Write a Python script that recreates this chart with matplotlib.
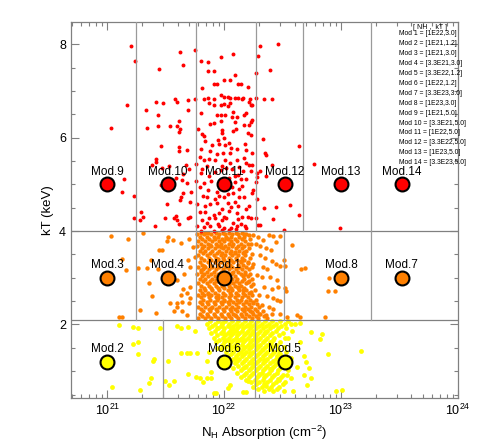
import numpy as np
import matplotlib.pyplot as plt
from matplotlib.ticker import LogLocator, MultipleLocator, NullFormatter

plt.rcParams['font.family'] = ['Liberation Sans', 'DejaVu Sans']
plt.rcParams['mathtext.fontset'] = 'custom'
plt.rcParams['mathtext.rm'] = 'Liberation Sans'
plt.rcParams['mathtext.it'] = 'Liberation Sans:italic'

# model grid: name, NH (cm^-2), kT (keV)
mod_names = ['Mod.1', 'Mod.2', 'Mod.3', 'Mod.4', 'Mod.5', 'Mod.6', 'Mod.7',
             'Mod.8', 'Mod.9', 'Mod.10', 'Mod.11', 'Mod.12', 'Mod.13', 'Mod.14']
mod_nh = [1e22, 1e21, 1e21, 3.3e21, 3.3e22, 1e22, 3.3e23,
          1e23, 1e21, 3.3e21, 1e22, 3.3e22, 1e23, 3.3e23]
mod_kt = [3.0, 1.2, 3.0, 3.0, 1.2, 1.2, 3.0, 3.0, 5.0, 5.0, 5.0, 5.0, 5.0, 5.0]
mod_text = ['[1E22,3.0]', '[1E21,1.2]', '[1E21,3.0]', '[3.3E21,3.0]', '[3.3E22,1.2]',
            '[1E22,1.2]', '[3.3E23,3.0]', '[1E23,3.0]', '[1E21,5.0]', '[3.3E21,5.0]',
            '[1E22,5.0]', '[3.3E22,5.0]', '[1E23,5.0]', '[3.3E23,5.0]']

# region boundaries (log10 NH) per kT band
kt_cuts = [2.1, 4.0]
top_cuts = [21.25, 21.76, 22.27, 22.675, 23.26]
mid_cuts = [21.25, 21.76, 22.51, 23.26]
low_cuts = [21.48, 22.26]

# simulated spectra, (log10 NH, kT)
red_pts = [
    (21.20, 7.96), (21.24, 7.64), (21.44, 7.48), (21.62, 7.84), (21.65, 7.55), (21.75, 7.88),
    (21.80, 7.64), (21.86, 7.62), (21.97, 7.72), (22.08, 7.80), (21.86, 7.43), (21.91, 7.43),
    (22.09, 7.34), (22.05, 7.23), (22.00, 7.23), (21.94, 7.16), (21.91, 7.15), (22.12, 7.16),
    (21.81, 7.06), (21.97, 6.91), (22.00, 6.87), (22.03, 6.87), (22.05, 6.85), (22.09, 6.86),
    (22.12, 6.84), (21.83, 6.82), (21.86, 6.84), (21.91, 6.83), (21.75, 6.83), (21.69, 6.80),
    (21.58, 6.83), (21.60, 6.77), (21.42, 6.77), (21.48, 6.74), (21.17, 6.69), (21.87, 6.74),
    (21.91, 6.70), (21.97, 6.70), (22.00, 6.72), (22.03, 6.67), (22.05, 6.74), (22.08, 6.55),
    (21.69, 6.60), (21.33, 6.60), (21.80, 6.53), (21.43, 6.48), (21.94, 6.48), (21.97, 6.49),
    (22.01, 6.49), (22.07, 6.45), (22.11, 6.45), (21.97, 6.36), (22.09, 6.34), (21.91, 6.32),
    (21.88, 6.30), (21.61, 6.36), (21.54, 6.26), (21.60, 6.25), (21.62, 6.19), (21.61, 6.12),
    (21.43, 6.25), (21.34, 6.21), (21.03, 6.21), (21.78, 6.18), (21.98, 6.17), (21.98, 6.11),
    (22.08, 6.14), (22.10, 6.19), (21.81, 6.07), (21.83, 6.04), (22.00, 6.00),
    (22.31, 7.96), (22.46, 8.00), (22.29, 7.75), (22.27, 7.38), (22.39, 7.45), (22.20, 7.09),
    (22.16, 6.84), (22.15, 6.82), (22.22, 6.83), (22.27, 6.85), (22.34, 6.83), (22.41, 6.83),
    (22.21, 6.76), (22.23, 6.69), (22.24, 6.69), (22.19, 6.53), (22.17, 6.48), (22.24, 6.38),
    (22.23, 6.34), (22.21, 6.27), (22.17, 6.28), (22.20, 6.11), (22.23, 6.05), (22.33, 5.97),
    (22.14, 7.16),
    (21.46, 5.82), (21.61, 5.80), (21.68, 5.73), (21.61, 5.71), (21.42, 5.55), (21.42, 5.47),
    (21.38, 5.41), (21.47, 5.36), (21.53, 5.40), (21.67, 5.42), (21.70, 5.33), (21.65, 5.23),
    (21.59, 5.14), (21.64, 5.10), (21.68, 5.03), (21.14, 5.11), (21.13, 4.84), (21.23, 4.76),
    (21.46, 4.98), (21.65, 4.81), (21.72, 4.84), (21.62, 4.66), (21.63, 4.72), (21.71, 4.63),
    (21.51, 4.59), (21.29, 4.41), (21.31, 4.31), (21.23, 4.27), (21.28, 4.24), (21.41, 4.11),
    (21.49, 4.28), (21.57, 4.28), (21.59, 4.32), (21.60, 4.23), (21.61, 4.16), (21.69, 4.28),
    (21.71, 4.31),
    (21.84, 5.92), (21.90, 5.85), (21.96, 5.86), (22.01, 5.85), (22.04, 5.89), (21.80, 5.76),
    (21.88, 5.72), (21.94, 5.65), (21.99, 5.67), (22.05, 5.67), (22.11, 5.76), (21.79, 5.59),
    (21.83, 5.53), (21.87, 5.55), (21.92, 5.52), (22.01, 5.53), (22.05, 5.46), (22.11, 5.53),
    (21.76, 5.43), (21.81, 5.34), (21.85, 5.39), (21.98, 5.40), (22.02, 5.35), (22.07, 5.33),
    (22.13, 5.38), (21.80, 5.25), (21.87, 5.19), (21.92, 5.27), (22.09, 5.18), (22.12, 5.20),
    (21.76, 5.07), (21.83, 5.04), (21.89, 5.08), (22.09, 5.06), (22.07, 4.95), (22.13, 4.91),
    (21.82, 4.75), (21.85, 4.72), (21.92, 4.68), (21.96, 4.75), (22.00, 4.72), (22.03, 4.79),
    (22.08, 4.82), (22.13, 4.74), (21.77, 4.57), (21.84, 4.54), (21.88, 4.58), (21.94, 4.61),
    (22.03, 4.60), (22.09, 4.62), (22.12, 4.54), (21.79, 4.40), (21.84, 4.41), (21.91, 4.34),
    (21.96, 4.38), (22.00, 4.31), (22.04, 4.43), (22.11, 4.38), (21.81, 4.23), (21.85, 4.18),
    (21.92, 4.28), (21.98, 4.23), (22.02, 4.27), (22.08, 4.18), (22.12, 4.26), (21.77, 4.10),
    (21.83, 4.08), (21.88, 4.10), (21.96, 4.11), (22.00, 4.07), (22.06, 4.06), (22.11, 4.10),
    (21.80, 4.01), (21.91, 4.01), (21.98, 4.02), (22.04, 4.02),
    (21.95, 5.95), (22.06, 5.78), (21.97, 5.31), (22.04, 5.14), (21.86, 4.88), (21.94, 4.84),
    (21.79, 4.95), (21.98, 4.47), (22.06, 4.52), (21.87, 4.29), (22.10, 4.04), (21.95, 4.15),
    (22.18, 5.87), (22.24, 5.67), (22.19, 5.73), (22.17, 5.57), (22.19, 5.45), (22.21, 5.42),
    (22.24, 5.41), (22.16, 5.29), (22.23, 5.29), (22.28, 5.25), (22.31, 5.28), (22.35, 5.67),
    (22.36, 5.64), (22.41, 5.42), (22.36, 5.19), (22.14, 5.11), (22.19, 5.12), (22.15, 4.96),
    (22.27, 5.05), (22.28, 5.16), (22.25, 4.89), (22.24, 4.82), (22.17, 4.74), (22.19, 4.47),
    (22.15, 4.31), (22.20, 4.31), (22.23, 4.27), (22.27, 4.28), (22.14, 4.15), (22.18, 4.11),
    (22.19, 4.06), (22.29, 4.13), (22.31, 4.13), (22.34, 4.50), (22.44, 4.52), (22.56, 4.56),
    (22.42, 4.25), (22.64, 4.34), (22.64, 5.83), (22.77, 5.44), (22.99, 4.07), (22.51, 4.02),
    (22.21, 4.54), (22.28, 4.68),
]

orange_pts = [
    (21.03, 3.89), (21.18, 3.83), (21.13, 3.40), (21.16, 3.16), (21.31, 3.96), (21.52, 3.87),
    (21.56, 3.82), (21.51, 3.79), (21.63, 3.75), (21.70, 3.83), (21.44, 3.59), (21.47, 3.59),
    (21.37, 3.38), (21.26, 3.20), (21.34, 3.21), (21.43, 3.18), (21.36, 2.88), (21.38, 2.60),
    (21.54, 2.45), (21.60, 2.47), (21.64, 2.48), (21.70, 2.45), (21.60, 2.38), (21.28, 2.30),
    (21.42, 2.24), (21.10, 2.17), (21.13, 2.15), (21.57, 2.29), (21.64, 2.28), (21.68, 2.21),
    (21.65, 2.75), (21.71, 2.81), (21.68, 2.67), (21.71, 2.57), (21.63, 2.63), (21.60, 2.95),
    (21.66, 3.09), (21.71, 3.23), (21.69, 3.39), (21.73, 3.66), (21.75, 3.45),
    (22.48, 3.90), (22.58, 3.70), (22.51, 3.38), (22.66, 3.19), (22.69, 3.22), (22.52, 3.26),
    (22.90, 2.99), (22.89, 2.72), (22.95, 2.72), (22.52, 2.79), (22.53, 2.72), (22.45, 2.52),
    (22.54, 2.16), (22.62, 2.21), (22.65, 2.16), (22.86, 2.16),
    (22.17, 3.93), (22.21, 3.91), (22.25, 3.91), (22.29, 3.87), (22.33, 3.80), (22.38, 3.91),
    (22.42, 3.89), (22.44, 3.77), (22.20, 3.73), (22.27, 3.72), (22.31, 3.69), (22.36, 3.63),
    (22.40, 3.59), (22.17, 3.55), (22.24, 3.52), (22.31, 3.49), (22.35, 3.43), (22.41, 3.35),
    (22.44, 3.30), (22.48, 3.26), (22.20, 3.32), (22.25, 3.29), (22.33, 3.23), (22.37, 3.18),
    (22.18, 3.09), (22.28, 3.06), (22.32, 3.02), (22.39, 3.02), (22.45, 2.95), (22.20, 2.92),
    (22.25, 2.86), (22.34, 2.81), (22.41, 2.77), (22.46, 2.81), (22.16, 2.74), (22.23, 2.69),
    (22.30, 2.64), (22.37, 2.61), (22.42, 2.57), (22.48, 2.51), (22.19, 2.51), (22.25, 2.45),
    (22.32, 2.41), (22.38, 2.38), (22.42, 2.34), (22.17, 2.31), (22.24, 2.27), (22.31, 2.23),
    (22.36, 2.20), (22.41, 2.23), (22.48, 2.23),
    (21.84, 3.95), (22.02, 3.86), (21.88, 3.71), (22.09, 3.56), (21.95, 3.41), (21.83, 3.26),
    (22.07, 3.11), (21.93, 2.96), (22.12, 2.81), (21.86, 2.66), (22.00, 2.51), (21.89, 2.36),
    (22.09, 2.21), (21.97, 3.66), (22.14, 3.36), (21.80, 3.16), (22.04, 2.86), (21.95, 2.56),
]

# dense core of the orange cloud, read row by row (kT, list of log10 NH)
orange_core_kt = [3.97, 3.93, 3.88, 3.83, 3.78, 3.73, 3.68, 3.63, 3.58, 3.53, 3.48, 3.43,
                  3.38, 3.33, 3.28, 3.23, 3.18, 3.13, 3.08, 3.03, 2.98, 2.93, 2.88, 2.83,
                  2.78, 2.73, 2.68, 2.63, 2.58, 2.53, 2.48, 2.43, 2.38, 2.33, 2.28, 2.23,
                  2.18, 2.14]
orange_core_nh = [
    [21.80, 21.86, 21.93, 21.99, 22.04, 22.10, 22.15],
    [21.77, 21.83, 21.89, 21.96, 22.01, 22.07, 22.12, 22.19],
    [21.79, 21.85, 21.91, 21.95, 22.02, 22.06, 22.13, 22.17],
    [21.81, 21.87, 21.92, 21.98, 22.03, 22.09, 22.15, 22.22],
    [21.78, 21.84, 21.90, 21.96, 22.00, 22.06, 22.11, 22.18],
    [21.80, 21.86, 21.93, 21.97, 22.04, 22.08, 22.14, 22.23],
    [21.77, 21.83, 21.89, 21.95, 22.01, 22.07, 22.12, 22.17],
    [21.81, 21.86, 21.92, 21.99, 22.03, 22.10, 22.15, 22.21],
    [21.79, 21.84, 21.90, 21.96, 22.02, 22.06, 22.13, 22.19],
    [21.82, 21.88, 21.94, 21.98, 22.05, 22.09, 22.16],
    [21.78, 21.85, 21.91, 21.97, 22.01, 22.07, 22.12, 22.18],
    [21.80, 21.87, 21.93, 21.99, 22.04, 22.10, 22.15, 22.22],
    [21.83, 21.89, 21.94, 22.00, 22.06, 22.11, 22.17],
    [21.79, 21.86, 21.92, 21.97, 22.03, 22.08, 22.14, 22.20],
    [21.81, 21.88, 21.95, 22.01, 22.05, 22.12, 22.16],
    [21.78, 21.84, 21.90, 21.96, 22.02, 22.07, 22.13, 22.19, 22.24],
    [21.82, 21.87, 21.93, 21.99, 22.04, 22.10, 22.15, 22.21],
    [21.80, 21.85, 21.91, 21.97, 22.01, 22.08, 22.12, 22.18],
    [21.77, 21.83, 21.89, 21.95, 22.03, 22.06, 22.14, 22.22],
    [21.81, 21.86, 21.92, 21.98, 22.04, 22.09, 22.16, 22.20],
    [21.79, 21.84, 21.90, 21.96, 22.01, 22.07, 22.11, 22.17, 22.24],
    [21.82, 21.88, 21.94, 21.99, 22.05, 22.10, 22.15, 22.21],
    [21.78, 21.85, 21.91, 21.97, 22.02, 22.08, 22.13, 22.19],
    [21.80, 21.87, 21.93, 21.98, 22.04, 22.09, 22.14, 22.23],
    [21.83, 21.89, 21.95, 22.00, 22.06, 22.12, 22.17],
    [21.79, 21.84, 21.90, 21.96, 22.03, 22.07, 22.13, 22.19, 22.26],
    [21.81, 21.86, 21.92, 21.99, 22.05, 22.10, 22.16, 22.21],
    [21.78, 21.83, 21.89, 21.95, 22.01, 22.06, 22.12, 22.18, 22.24],
    [21.80, 21.87, 21.93, 21.98, 22.04, 22.09, 22.15, 22.20],
    [21.82, 21.88, 21.94, 22.00, 22.05, 22.11, 22.14, 22.22, 22.27],
    [21.79, 21.85, 21.91, 21.97, 22.03, 22.08, 22.13, 22.19, 22.25],
    [21.81, 21.86, 21.92, 21.98, 22.04, 22.10, 22.16, 22.21, 22.28],
    [21.78, 21.84, 21.90, 21.96, 22.02, 22.07, 22.12, 22.18, 22.23, 22.30],
    [21.80, 21.87, 21.93, 21.99, 22.05, 22.09, 22.15, 22.20, 22.26],
    [21.82, 21.88, 21.94, 22.00, 22.06, 22.11, 22.17, 22.22, 22.28, 22.33],
    [21.79, 21.85, 21.91, 21.97, 22.03, 22.08, 22.14, 22.19, 22.25, 22.30],
    [21.81, 21.86, 21.92, 21.98, 22.04, 22.10, 22.15, 22.21, 22.27, 22.34],
    [21.78, 21.84, 21.89, 21.95, 22.01, 22.06, 22.12, 22.18, 22.24, 22.29, 22.37],
]

yellow_pts = [
    (21.10, 1.99), (21.22, 1.94), (21.26, 1.93), (21.45, 1.92), (21.22, 1.59), (21.26, 1.62),
    (21.26, 1.36), (21.39, 1.21), (21.40, 1.26), (21.37, 0.86), (21.52, 1.21), (21.60, 1.96),
    (21.63, 1.92), (21.69, 1.94), (21.75, 1.86), (21.63, 1.40), (21.68, 1.38), (21.71, 1.40),
    (21.77, 1.40), (21.85, 1.22), (21.95, 1.92), (22.00, 1.79), (21.94, 1.49), (21.87, 1.42),
    (21.89, 0.99), (21.69, 0.94), (21.76, 0.87), (21.79, 0.86), (21.85, 0.86), (21.89, 0.86),
    (22.57, 2.01), (22.65, 2.03), (22.74, 1.84), (22.84, 1.80), (22.82, 1.69), (22.65, 1.63),
    (22.68, 1.33), (22.70, 1.19), (22.89, 1.36), (23.17, 1.43), (22.57, 1.28), (22.62, 1.10),
    (22.73, 1.06), (22.68, 0.92), (22.74, 0.86), (22.57, 0.86), (22.54, 0.92),
    (21.04, 0.67), (21.28, 0.59), (21.36, 0.74), (21.49, 0.78), (21.53, 0.70), (21.57, 0.79),
    (21.82, 0.77), (21.91, 0.53), (21.93, 0.53), (22.03, 0.65), (22.05, 0.71), (22.16, 0.55),
    (22.19, 0.55), (22.59, 0.57), (22.71, 0.71), (22.96, 0.57), (23.01, 0.59),
    (22.20, 1.99), (22.35, 1.85), (22.14, 1.70), (22.28, 1.55), (22.40, 1.60), (22.22, 1.40),
    (22.34, 1.25), (22.18, 1.10), (22.30, 0.95), (22.44, 1.15), (22.26, 1.75), (22.08, 1.90),
    (22.04, 1.64), (22.12, 1.49), (22.47, 1.38), (22.24, 1.18), (22.39, 1.04), (22.20, 0.79),
    (22.36, 0.69), (22.46, 0.83), (22.09, 1.27), (22.52, 1.71), (21.98, 2.04), (22.32, 1.45),
]

yellow_core_kt = [2.07, 2.02, 1.97, 1.92, 1.87, 1.82, 1.77, 1.72, 1.67, 1.62, 1.57, 1.52,
                  1.47, 1.42, 1.37, 1.32, 1.27, 1.22, 1.17, 1.12, 1.07, 1.02, 0.97, 0.92,
                  0.87, 0.82, 0.77, 0.72, 0.67, 0.62, 0.57]
yellow_core_nh = [
    [21.88, 21.95, 22.01, 22.07, 22.12, 22.18, 22.23, 22.29, 22.35, 22.41, 22.48, 22.55],
    [21.85, 21.92, 21.98, 22.04, 22.10, 22.15, 22.21, 22.26, 22.32, 22.38, 22.44, 22.52, 22.61],
    [21.90, 21.97, 22.03, 22.08, 22.13, 22.19, 22.24, 22.30, 22.36, 22.42, 22.49],
    [21.87, 21.94, 22.00, 22.06, 22.11, 22.16, 22.22, 22.27, 22.33, 22.39, 22.46, 22.53],
    [21.92, 21.99, 22.05, 22.10, 22.15, 22.20, 22.25, 22.31, 22.37, 22.44, 22.58],
    [21.89, 21.97, 22.03, 22.08, 22.13, 22.19, 22.24, 22.29, 22.35, 22.41, 22.50],
    [21.94, 22.01, 22.06, 22.11, 22.17, 22.22, 22.27, 22.33, 22.39, 22.47],
    [21.91, 21.99, 22.04, 22.10, 22.15, 22.20, 22.26, 22.31, 22.37, 22.43, 22.55],
    [21.96, 22.02, 22.08, 22.13, 22.18, 22.24, 22.29, 22.35, 22.42],
    [21.93, 22.00, 22.06, 22.11, 22.16, 22.22, 22.27, 22.33, 22.39, 22.48],
    [21.98, 22.04, 22.09, 22.15, 22.20, 22.25, 22.31, 22.37, 22.44],
    [22.01, 22.07, 22.12, 22.18, 22.23, 22.29, 22.35, 22.41, 22.51],
    [21.97, 22.05, 22.10, 22.16, 22.21, 22.27, 22.33, 22.39, 22.46],
    [22.02, 22.08, 22.14, 22.19, 22.25, 22.31, 22.37, 22.43, 22.53],
    [22.06, 22.12, 22.17, 22.23, 22.29, 22.35, 22.41, 22.48],
    [22.03, 22.10, 22.15, 22.21, 22.27, 22.33, 22.39, 22.45],
    [22.08, 22.13, 22.19, 22.25, 22.31, 22.37, 22.44, 22.52],
    [22.05, 22.11, 22.17, 22.23, 22.29, 22.35, 22.42, 22.49],
    [22.09, 22.15, 22.21, 22.27, 22.33, 22.39, 22.46],
    [22.12, 22.19, 22.25, 22.31, 22.37, 22.43, 22.51],
    [22.08, 22.16, 22.23, 22.29, 22.35, 22.41, 22.48],
    [22.14, 22.21, 22.27, 22.33, 22.40, 22.46, 22.55],
    [22.11, 22.19, 22.25, 22.32, 22.38, 22.45],
    [22.17, 22.23, 22.30, 22.36, 22.43, 22.50],
    [22.14, 22.21, 22.28, 22.34, 22.41, 22.49],
    [22.19, 22.26, 22.33, 22.39, 22.47],
    [22.23, 22.30, 22.37, 22.44, 22.52],
    [22.27, 22.34, 22.42, 22.50],
    [22.25, 22.32, 22.40, 22.47],
    [22.29, 22.38, 22.45],
    [22.34, 22.42, 22.51],
]


def unpack(pts, core_kt, core_nh):
    lx = [p[0] for p in pts]
    ky = [p[1] for p in pts]
    for k, row in zip(core_kt, core_nh):
        lx += row
        ky += [k] * len(row)
    return 10 ** np.array(lx), np.array(ky)


red_x = 10 ** np.array([p[0] for p in red_pts])
red_y = np.array([p[1] for p in red_pts])
orange_x, orange_y = unpack(orange_pts, orange_core_kt, orange_core_nh)
yellow_x, yellow_y = unpack(yellow_pts, yellow_core_kt, yellow_core_nh)

fig = plt.figure(figsize=(4.8, 4.47), dpi=100)
ax = fig.add_axes([0.148, 0.109, 0.806, 0.842])
ax.set_xscale('log')
xmin, xmax = 4.9e20, 1e24
ymin, ymax = 0.42, 8.48
ax.set_xlim(xmin, xmax)
ax.set_ylim(ymin, ymax)

ax.scatter(yellow_x, yellow_y, s=12, c='#ffff00', linewidths=0, zorder=2)
ax.scatter(orange_x, orange_y, s=10, c='#ff8000', linewidths=0, zorder=2)
ax.scatter(red_x, red_y, s=8, c='#ff0000', linewidths=0, zorder=2)

gcol = '#9a9a9a'
for k in kt_cuts:
    ax.axhline(k, color='#808080', lw=0.9, zorder=3)
for c in top_cuts:
    ax.plot([10 ** c] * 2, [4.0, ymax], color=gcol, lw=0.9, zorder=3)
for c in mid_cuts:
    ax.plot([10 ** c] * 2, [2.1, 4.0], color=gcol, lw=0.9, zorder=3)
for c in low_cuts:
    ax.plot([10 ** c] * 2, [ymin, 2.1], color=gcol, lw=0.9, zorder=3)

col = {5.0: '#ff0000', 3.0: '#ff8000', 1.2: '#ffff00'}
for name, nh, kt in zip(mod_names, mod_nh, mod_kt):
    ax.plot(nh, kt, 'o', ms=10, mfc=col[kt], mec='black', mew=1.5, zorder=4)
    ax.annotate(name, (nh, kt), xytext=(0, 7), textcoords='offset points',
                ha='center', va='baseline', fontsize=8.5, zorder=5)

# listing of the model parameters
ax.text(0.885, 0.984, '[ NH ,  kT ]', transform=ax.transAxes, fontsize=5,
        va='center', ha='left')
for i, t in enumerate(mod_text):
    ax.text(0.848, 0.968 - i * 0.0263, 'Mod %d = %s' % (i + 1, t), transform=ax.transAxes,
            fontsize=4.9, va='center', ha='left')

ax.xaxis.set_major_locator(LogLocator(base=10, numticks=10))
ax.xaxis.set_minor_locator(LogLocator(base=10, subs=np.arange(2, 10), numticks=20))
ax.xaxis.set_minor_formatter(NullFormatter())
ax.yaxis.set_major_locator(MultipleLocator(2))
ax.yaxis.set_minor_locator(MultipleLocator(0.5))
ax.tick_params(which='both', direction='in', top=True, right=True, color='#808080',
               labelsize=9)
ax.tick_params(which='major', length=6, width=0.8)
ax.tick_params(which='minor', length=3, width=0.8)
for sp in ax.spines.values():
    sp.set_color('#808080')
    sp.set_linewidth(0.9)

ax.set_xlabel('N$_{\\rm H}$ Absorption (cm$^{-2}$)', fontsize=9.5)
ax.set_ylabel('kT (keV)', fontsize=9.5)

plt.savefig('out.png', dpi=100)
